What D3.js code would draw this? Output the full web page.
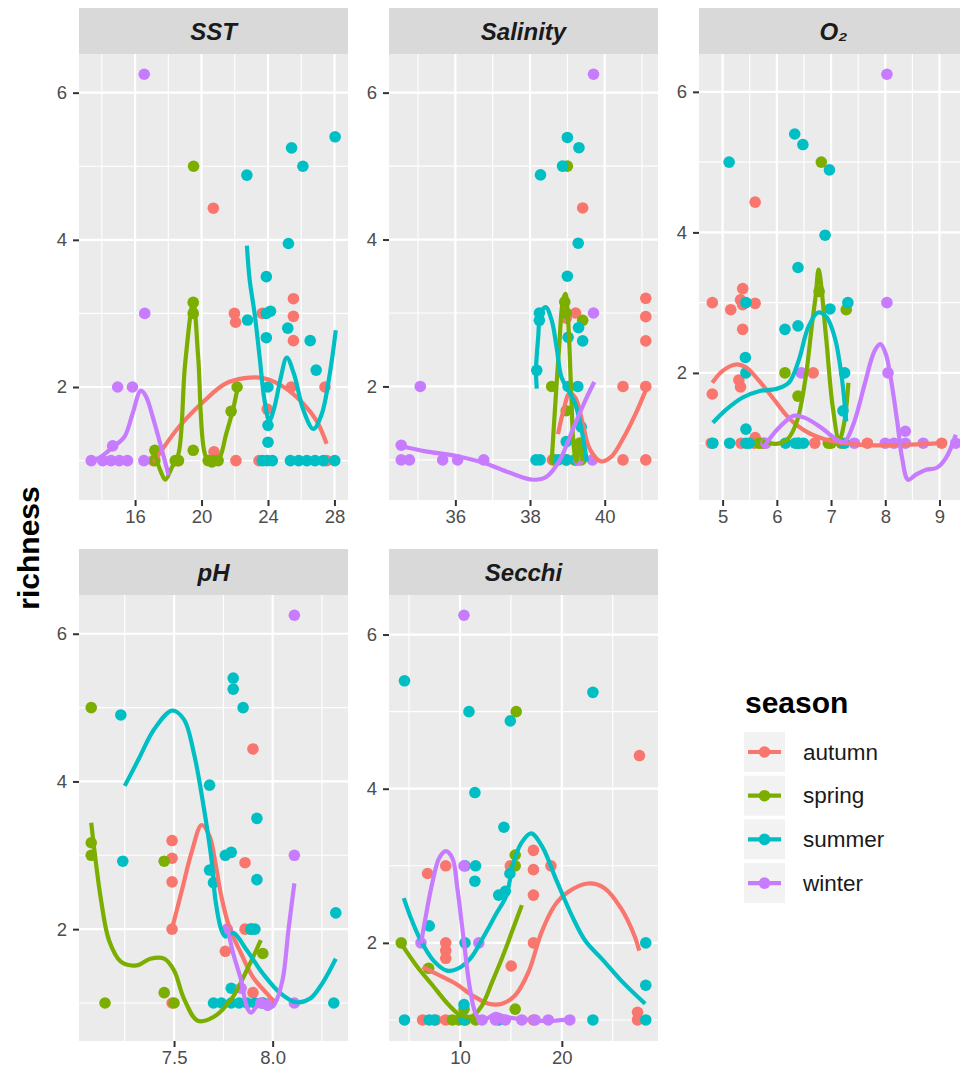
<!DOCTYPE html>
<html>
<head>
<meta charset="utf-8">
<script src="https://cdn.jsdelivr.net/npm/d3@7"></script>
<style>
  body { margin: 0; background: #fff; }
  svg { display: block; }
</style>
</head>
<body>
<svg id="chart" width="960" height="1074"></svg>
<script>
/* ── Data ─────────────────────────────────────────────────────── */

const seasons = ['autumn', 'spring', 'summer', 'winter'];
const seasonColors = ['#F8766D', '#7CAE00', '#00BFC4', '#C77CFF'];

const yTicks = [2, 4, 6];
const sstTicks = [16, 20, 24, 28];
const salinityTicks = [36, 38, 40];
const o2Ticks = [5, 6, 7, 8, 9];
const phTicks = [7.5, 8.0];
const secchiTicks = [10, 20];

// [season, x, richness]
const sstPoints = [
  ['autumn', 20.71, 4.43], ['autumn', 21.98, 3.0], ['autumn', 22.05, 2.88], ['autumn', 23.66, 3.0],
  ['autumn', 25.53, 3.2], ['autumn', 25.53, 2.96], ['autumn', 25.53, 2.63], ['autumn', 27.43, 2.0],
  ['autumn', 25.4, 2.0], ['autumn', 23.95, 1.7], ['autumn', 20.75, 1.12], ['autumn', 17.1, 1.0],
  ['autumn', 18.6, 1.0], ['autumn', 22.07, 1.0], ['autumn', 23.46, 1.0], ['autumn', 27.53, 1.0],
  ['spring', 19.52, 5.0], ['spring', 19.5, 3.15], ['spring', 19.5, 3.0], ['spring', 19.5, 1.14],
  ['spring', 17.19, 1.14], ['spring', 17.19, 1.0], ['spring', 18.42, 1.0], ['spring', 18.61, 1.0],
  ['spring', 20.4, 1.0], ['spring', 20.7, 1.0], ['spring', 21.0, 1.0], ['spring', 21.78, 1.67],
  ['spring', 22.14, 2.0],
  ['summer', 22.73, 4.88], ['summer', 25.42, 5.25], ['summer', 26.1, 5.0], ['summer', 28.04, 5.4],
  ['summer', 25.23, 3.95], ['summer', 23.9, 3.5], ['summer', 22.77, 2.91], ['summer', 23.9, 3.0],
  ['summer', 24.15, 3.03], ['summer', 23.9, 2.67], ['summer', 25.19, 2.8], ['summer', 26.54, 2.63],
  ['summer', 26.9, 2.23], ['summer', 24.0, 2.0], ['summer', 24.0, 1.48], ['summer', 24.0, 1.25],
  ['summer', 23.66, 1.0], ['summer', 23.96, 1.0], ['summer', 24.26, 1.0], ['summer', 25.35, 1.0],
  ['summer', 25.85, 1.0], ['summer', 26.34, 1.0], ['summer', 26.83, 1.0], ['summer', 27.33, 1.0],
  ['summer', 28.02, 1.0],
  ['winter', 16.55, 6.25], ['winter', 16.58, 3.0], ['winter', 14.95, 2.0], ['winter', 15.84, 2.0],
  ['winter', 14.65, 1.2], ['winter', 13.36, 1.0], ['winter', 14.05, 1.0], ['winter', 14.55, 1.0],
  ['winter', 15.05, 1.0], ['winter', 15.54, 1.0], ['winter', 16.53, 1.0]
];

const sstFits = [
  ['autumn', 17.13, 0.98], ['autumn', 18.61, 1.45], ['autumn', 20.2, 1.82], ['autumn', 21.39, 2.04],
  ['autumn', 22.58, 2.12], ['autumn', 23.76, 2.12], ['autumn', 24.95, 2.0], ['autumn', 26.14, 1.77],
  ['autumn', 26.93, 1.54], ['autumn', 27.53, 1.23],
  ['spring', 17.19, 1.09], ['spring', 17.53, 0.86], ['spring', 17.82, 0.74], ['spring', 18.22, 0.91],
  ['spring', 18.61, 1.09], ['spring', 19.01, 2.31], ['spring', 19.5, 3.15], ['spring', 19.8, 2.4],
  ['spring', 20.2, 1.09], ['spring', 20.6, 0.93], ['spring', 21.09, 1.04], ['spring', 21.48, 1.36],
  ['spring', 21.88, 1.68], ['spring', 22.18, 2.0],
  ['summer', 22.73, 3.92], ['summer', 22.9, 3.45], ['summer', 23.2, 2.99], ['summer', 23.5, 2.4],
  ['summer', 23.79, 1.82], ['summer', 24.08, 1.54], ['summer', 24.38, 1.72], ['summer', 24.77, 2.13],
  ['summer', 25.13, 2.4], ['summer', 25.56, 2.18], ['summer', 26.14, 1.68], ['summer', 26.73, 1.43],
  ['summer', 27.23, 1.63], ['summer', 27.72, 2.18], ['summer', 28.08, 2.77],
  ['winter', 13.36, 1.0], ['winter', 13.86, 1.04], ['winter', 14.65, 1.18], ['winter', 15.35, 1.32],
  ['winter', 15.84, 1.63], ['winter', 16.34, 1.95], ['winter', 16.64, 1.88], ['winter', 17.13, 1.54],
  ['winter', 17.62, 1.14], ['winter', 18.02, 0.8]
];

const salinityPoints = [
  ['autumn', 39.41, 4.43], ['autumn', 39.22, 3.0], ['autumn', 38.97, 2.93], ['autumn', 41.1, 3.2],
  ['autumn', 41.1, 2.95], ['autumn', 41.1, 2.62], ['autumn', 40.49, 2.0], ['autumn', 41.1, 2.0],
  ['autumn', 38.6, 1.0], ['autumn', 40.49, 1.0], ['autumn', 41.1, 1.0],
  ['spring', 39.0, 5.0], ['spring', 38.93, 3.15], ['spring', 38.97, 3.0], ['spring', 39.41, 2.9],
  ['spring', 38.58, 2.0], ['spring', 38.97, 1.67], ['spring', 38.66, 1.0], ['spring', 38.97, 1.0],
  ['spring', 39.19, 1.0], ['spring', 39.37, 1.0], ['spring', 39.33, 1.23],
  ['summer', 39.0, 5.39], ['summer', 39.31, 5.25], ['summer', 38.28, 4.88], ['summer', 38.87, 5.0],
  ['summer', 39.29, 3.95], ['summer', 39.0, 3.5], ['summer', 38.25, 3.0], ['summer', 38.25, 2.9],
  ['summer', 39.3, 2.8], ['summer', 39.41, 2.62], ['summer', 39.02, 2.67], ['summer', 38.18, 2.22],
  ['summer', 39.02, 2.0], ['summer', 39.28, 2.0], ['summer', 38.97, 1.25], ['summer', 39.37, 1.45],
  ['summer', 38.16, 1.0], ['summer', 38.27, 1.0], ['summer', 38.75, 1.0], ['summer', 38.97, 1.0],
  ['summer', 39.24, 1.0],
  ['winter', 39.7, 6.25], ['winter', 39.7, 3.0], ['winter', 35.06, 2.0], ['winter', 34.55, 1.2],
  ['winter', 34.55, 1.0], ['winter', 34.77, 1.0], ['winter', 35.66, 1.0], ['winter', 36.06, 1.0],
  ['winter', 36.76, 1.0], ['winter', 39.67, 1.0], ['winter', 39.3, 1.0]
];

const salinityFits = [
  ['autumn', 38.75, 1.35], ['autumn', 38.9, 1.68], ['autumn', 39.06, 1.91], ['autumn', 39.22, 1.84],
  ['autumn', 39.41, 1.5], ['autumn', 39.59, 1.16], ['autumn', 39.9, 0.98], ['autumn', 40.17, 1.04],
  ['autumn', 40.47, 1.27], ['autumn', 40.83, 1.63], ['autumn', 41.1, 1.95],
  ['spring', 38.58, 0.98], ['spring', 38.66, 1.63], ['spring', 38.78, 2.54], ['spring', 38.88, 3.17],
  ['spring', 38.95, 3.26], ['spring', 39.02, 2.9], ['spring', 39.1, 1.95], ['spring', 39.17, 1.18],
  ['spring', 39.24, 0.98], ['spring', 39.33, 1.27], ['spring', 39.41, 0.98],
  ['summer', 38.18, 1.97], ['summer', 38.16, 2.22], ['summer', 38.22, 2.68], ['summer', 38.28, 2.99],
  ['summer', 38.42, 3.08], ['summer', 38.58, 2.9], ['summer', 38.71, 2.54], ['summer', 38.84, 2.13],
  ['summer', 39.02, 1.95], ['summer', 39.19, 1.79], ['summer', 39.33, 1.54], ['summer', 39.46, 1.18],
  ['summer', 39.52, 0.98],
  ['winter', 34.55, 1.19], ['winter', 35.17, 1.12], ['winter', 36.06, 1.05], ['winter', 36.76, 0.96],
  ['winter', 37.38, 0.84], ['winter', 38.09, 0.73], ['winter', 38.44, 0.77], ['winter', 38.8, 1.0],
  ['winter', 39.15, 1.42], ['winter', 39.5, 1.83], ['winter', 39.72, 2.06]
];

const o2Points = [
  ['autumn', 4.81, 3.0], ['autumn', 5.15, 2.9], ['autumn', 5.33, 3.04], ['autumn', 5.37, 2.97],
  ['autumn', 5.37, 3.2], ['autumn', 5.6, 2.99], ['autumn', 5.37, 2.62], ['autumn', 5.6, 4.43],
  ['autumn', 5.3, 1.9], ['autumn', 5.33, 1.8], ['autumn', 4.81, 1.7], ['autumn', 6.67, 2.0],
  ['autumn', 5.6, 1.08], ['autumn', 4.79, 1.0], ['autumn', 5.34, 1.0], ['autumn', 5.58, 1.0],
  ['autumn', 5.73, 1.0], ['autumn', 6.7, 1.0], ['autumn', 7.67, 1.0], ['autumn', 9.04, 1.0],
  ['spring', 6.82, 5.0], ['spring', 7.28, 2.9], ['spring', 6.78, 3.16], ['spring', 6.15, 2.0],
  ['spring', 6.39, 1.67], ['spring', 5.67, 1.0], ['spring', 5.76, 1.0], ['spring', 6.4, 1.0],
  ['spring', 6.95, 1.0], ['spring', 7.0, 1.0], ['spring', 7.19, 1.0],
  ['summer', 5.12, 5.0], ['summer', 6.33, 5.4], ['summer', 6.48, 5.25], ['summer', 6.97, 4.89],
  ['summer', 6.89, 3.96], ['summer', 6.39, 3.5], ['summer', 5.43, 3.0], ['summer', 6.15, 2.62],
  ['summer', 6.39, 2.67], ['summer', 6.98, 2.91], ['summer', 7.31, 3.0], ['summer', 5.42, 2.22],
  ['summer', 5.43, 2.0], ['summer', 7.25, 2.0], ['summer', 7.22, 1.46], ['summer', 5.43, 1.2],
  ['summer', 4.82, 1.0], ['summer', 5.13, 1.0], ['summer', 5.43, 1.0], ['summer', 5.49, 1.0],
  ['summer', 6.16, 1.0], ['summer', 6.34, 1.0], ['summer', 6.4, 1.0], ['summer', 6.49, 1.0],
  ['summer', 7.25, 1.0],
  ['winter', 8.03, 6.25], ['winter', 8.03, 3.0], ['winter', 8.05, 2.0], ['winter', 6.45, 2.0],
  ['winter', 8.37, 1.17], ['winter', 5.8, 1.0], ['winter', 7.43, 1.0], ['winter', 8.0, 1.0],
  ['winter', 8.16, 1.0], ['winter', 8.37, 1.0], ['winter', 8.7, 1.0], ['winter', 9.3, 1.0]
];

const o2Fits = [
  ['autumn', 4.81, 1.86], ['autumn', 5.0, 2.03], ['autumn', 5.25, 2.12], ['autumn', 5.43, 2.08],
  ['autumn', 5.67, 1.89], ['autumn', 5.92, 1.65], ['autumn', 6.22, 1.36], ['autumn', 6.58, 1.15],
  ['autumn', 7.0, 1.03], ['autumn', 7.49, 0.98], ['autumn', 7.98, 0.97], ['autumn', 8.47, 0.98],
  ['autumn', 9.04, 1.0],
  ['spring', 5.73, 1.03], ['spring', 5.98, 0.99], ['spring', 6.19, 1.05], ['spring', 6.37, 1.31],
  ['spring', 6.53, 1.93], ['spring', 6.65, 2.7], ['spring', 6.72, 3.12], ['spring', 6.77, 3.47],
  ['spring', 6.91, 2.49], ['spring', 7.03, 1.52], ['spring', 7.15, 1.04], ['spring', 7.24, 1.28],
  ['spring', 7.32, 1.86],
  ['summer', 4.82, 1.29], ['summer', 5.07, 1.48], ['summer', 5.37, 1.65], ['summer', 5.67, 1.74],
  ['summer', 5.98, 1.77], ['summer', 6.22, 1.86], ['summer', 6.4, 2.17], ['summer', 6.58, 2.65],
  ['summer', 6.76, 2.86], ['summer', 6.92, 2.79], ['summer', 7.07, 2.5], ['summer', 7.19, 1.98],
  ['summer', 7.28, 1.31],
  ['winter', 5.79, 0.98], ['winter', 5.98, 1.17], ['winter', 6.16, 1.31], ['winter', 6.31, 1.39],
  ['winter', 6.52, 1.36], ['winter', 6.82, 1.22], ['winter', 7.13, 1.04], ['winter', 7.25, 1.02],
  ['winter', 7.43, 1.31], ['winter', 7.62, 1.84], ['winter', 7.8, 2.31], ['winter', 7.91, 2.41],
  ['winter', 8.01, 2.27], ['winter', 8.1, 1.93], ['winter', 8.22, 1.31], ['winter', 8.31, 0.79],
  ['winter', 8.42, 0.48], ['winter', 8.56, 0.55], ['winter', 8.74, 0.62], ['winter', 8.95, 0.65],
  ['winter', 9.12, 0.79], ['winter', 9.3, 1.12]
];

const phPoints = [
  ['autumn', 7.9, 4.44], ['autumn', 7.49, 3.2], ['autumn', 7.49, 2.96], ['autumn', 7.49, 2.64],
  ['autumn', 7.49, 2.0], ['autumn', 7.49, 1.0], ['autumn', 7.86, 2.9], ['autumn', 7.76, 1.7],
  ['autumn', 7.86, 2.0], ['autumn', 7.9, 1.14], ['autumn', 7.95, 1.0], ['autumn', 7.99, 1.0],
  ['spring', 7.08, 5.0], ['spring', 7.08, 3.17], ['spring', 7.08, 3.0], ['spring', 7.15, 1.0],
  ['spring', 7.45, 2.92], ['spring', 7.45, 1.14], ['spring', 7.5, 1.0], ['spring', 7.89, 2.0],
  ['spring', 7.95, 1.67],
  ['summer', 7.23, 4.9], ['summer', 7.24, 2.92], ['summer', 7.68, 3.95], ['summer', 7.8, 5.4],
  ['summer', 7.8, 5.25], ['summer', 7.85, 5.0], ['summer', 7.92, 3.5], ['summer', 7.76, 3.0],
  ['summer', 7.79, 3.04], ['summer', 7.92, 2.67], ['summer', 7.68, 2.8], ['summer', 7.7, 2.63],
  ['summer', 8.32, 2.22], ['summer', 7.89, 2.0], ['summer', 7.91, 2.0], ['summer', 7.79, 1.2],
  ['summer', 7.7, 1.0], ['summer', 7.74, 1.0], ['summer', 7.79, 1.0], ['summer', 7.83, 1.0],
  ['summer', 7.87, 1.0], ['summer', 7.91, 1.0], ['summer', 7.95, 1.0], ['summer', 7.99, 1.0],
  ['summer', 8.31, 1.0],
  ['winter', 8.11, 6.25], ['winter', 8.11, 3.0], ['winter', 7.77, 2.0], ['winter', 7.84, 1.2],
  ['winter', 7.94, 1.0], ['winter', 7.99, 1.0], ['winter', 8.11, 1.0]
];

const phFits = [
  ['autumn', 7.49, 2.01], ['autumn', 7.54, 2.53], ['autumn', 7.59, 3.05], ['autumn', 7.64, 3.41],
  ['autumn', 7.68, 3.26], ['autumn', 7.71, 2.89], ['autumn', 7.74, 2.44], ['autumn', 7.78, 2.03],
  ['autumn', 7.84, 1.67], ['autumn', 7.9, 1.35], ['autumn', 7.97, 1.13], ['autumn', 8.01, 1.01],
  ['spring', 7.08, 3.44], ['spring', 7.1, 2.98], ['spring', 7.13, 2.39], ['spring', 7.17, 1.85],
  ['spring', 7.23, 1.56], ['spring', 7.31, 1.51], ['spring', 7.38, 1.6], ['spring', 7.45, 1.6],
  ['spring', 7.5, 1.44], ['spring', 7.55, 1.06], ['spring', 7.62, 0.76], ['spring', 7.7, 0.81],
  ['spring', 7.79, 1.05], ['spring', 7.87, 1.45], ['spring', 7.94, 1.85],
  ['summer', 7.25, 3.94], ['summer', 7.32, 4.3], ['summer', 7.4, 4.71], ['summer', 7.49, 4.96],
  ['summer', 7.55, 4.84], ['summer', 7.6, 4.39], ['summer', 7.65, 3.66], ['summer', 7.69, 2.94],
  ['summer', 7.71, 2.39], ['summer', 7.74, 1.99], ['summer', 7.76, 1.9], ['summer', 7.8, 1.95],
  ['summer', 7.87, 1.71], ['summer', 7.95, 1.4], ['summer', 8.04, 1.13], ['summer', 8.12, 1.01],
  ['summer', 8.19, 1.06], ['summer', 8.25, 1.26], ['summer', 8.32, 1.6],
  ['winter', 7.77, 2.03], ['winter', 7.8, 1.67], ['winter', 7.84, 1.31], ['winter', 7.87, 0.94],
  ['winter', 7.89, 0.87], ['winter', 7.94, 1.01], ['winter', 7.97, 0.92], ['winter', 8.01, 0.99],
  ['winter', 8.05, 1.31], ['winter', 8.08, 1.99], ['winter', 8.11, 2.62]
];

const secchiPoints = [
  ['autumn', 27.62, 4.43], ['autumn', 17.21, 3.2], ['autumn', 17.21, 2.95], ['autumn', 18.93, 3.0],
  ['autumn', 17.21, 2.62], ['autumn', 14.94, 3.0], ['autumn', 8.6, 3.0], ['autumn', 6.82, 2.9],
  ['autumn', 17.21, 2.0], ['autumn', 8.6, 2.0], ['autumn', 8.6, 1.9], ['autumn', 8.6, 1.8],
  ['autumn', 15.03, 1.7], ['autumn', 27.43, 1.1], ['autumn', 6.33, 1.0], ['autumn', 7.63, 1.0],
  ['autumn', 8.6, 1.0], ['autumn', 17.21, 1.0], ['autumn', 27.43, 1.0],
  ['spring', 15.52, 5.0], ['spring', 15.42, 3.14], ['spring', 15.42, 3.0], ['spring', 4.23, 2.0],
  ['spring', 6.92, 1.67], ['spring', 15.42, 1.14], ['spring', 10.4, 1.14], ['spring', 9.25, 1.0],
  ['spring', 9.9, 1.0], ['spring', 10.55, 1.0], ['spring', 11.53, 1.0],
  ['summer', 4.55, 5.4], ['summer', 10.88, 5.0], ['summer', 14.94, 4.88], ['summer', 23.05, 5.25],
  ['summer', 11.46, 3.95], ['summer', 14.31, 3.5], ['summer', 10.49, 3.0], ['summer', 11.53, 3.0],
  ['summer', 11.46, 2.8], ['summer', 13.8, 2.62], ['summer', 14.45, 2.67], ['summer', 14.9, 2.9],
  ['summer', 6.98, 2.22], ['summer', 10.49, 2.0], ['summer', 28.24, 2.0], ['summer', 28.24, 1.45],
  ['summer', 10.39, 1.2], ['summer', 4.55, 1.0], ['summer', 6.98, 1.0], ['summer', 7.47, 1.0],
  ['summer', 10.39, 1.0], ['summer', 13.8, 1.0], ['summer', 23.05, 1.0], ['summer', 28.24, 1.0],
  ['winter', 10.39, 6.25], ['winter', 10.39, 3.0], ['winter', 6.17, 2.0], ['winter', 11.85, 2.0],
  ['winter', 12.17, 1.0], ['winter', 13.48, 1.0], ['winter', 14.45, 1.0], ['winter', 16.07, 1.0],
  ['winter', 17.37, 1.0], ['winter', 18.67, 1.0], ['winter', 20.78, 1.0]
];

const secchiFits = [
  ['autumn', 6.33, 1.69], ['autumn', 7.96, 1.58], ['autumn', 9.58, 1.47], ['autumn', 11.2, 1.32],
  ['autumn', 12.82, 1.21], ['autumn', 14.12, 1.21], ['autumn', 15.42, 1.32], ['autumn', 16.72, 1.62],
  ['autumn', 18.01, 2.14], ['autumn', 19.32, 2.49], ['autumn', 20.61, 2.66], ['autumn', 22.56, 2.77],
  ['autumn', 24.19, 2.71], ['autumn', 25.8, 2.45], ['autumn', 27.11, 2.1], ['autumn', 27.6, 1.9],
  ['spring', 4.23, 1.99], ['spring', 5.69, 1.71], ['spring', 7.3, 1.45], ['spring', 8.93, 1.19],
  ['spring', 10.07, 1.06], ['spring', 11.2, 1.05], ['spring', 12.17, 1.19], ['spring', 13.15, 1.49],
  ['spring', 14.12, 1.8], ['spring', 15.09, 2.14], ['spring', 16.07, 2.49],
  ['summer', 4.48, 2.58], ['summer', 5.13, 2.34], ['summer', 6.11, 2.04], ['summer', 7.4, 1.77],
  ['summer', 8.71, 1.64], ['summer', 9.68, 1.66], ['summer', 10.97, 1.79], ['summer', 12.27, 2.07],
  ['summer', 13.57, 2.38], ['summer', 14.55, 2.61], ['summer', 15.19, 3.01], ['summer', 16.0, 3.29],
  ['summer', 16.98, 3.42], ['summer', 18.11, 3.24], ['summer', 19.41, 2.83], ['summer', 21.03, 2.34],
  ['summer', 22.34, 2.02], ['summer', 23.95, 1.79], ['summer', 25.9, 1.5], ['summer', 28.18, 1.21],
  ['winter', 6.17, 1.99], ['winter', 6.66, 2.36], ['winter', 7.3, 2.79], ['winter', 7.96, 3.1],
  ['winter', 8.6, 3.19], ['winter', 9.25, 3.1], ['winter', 9.74, 2.71], ['winter', 10.39, 2.01],
  ['winter', 11.04, 1.36], ['winter', 11.68, 1.05], ['winter', 12.5, 1.01], ['winter', 13.48, 1.08],
  ['winter', 14.45, 1.04], ['winter', 16.07, 1.01], ['winter', 17.69, 0.99], ['winter', 19.32, 0.99],
  ['winter', 20.78, 1.01]
];

/* ── Layout ───────────────────────────────────────────────────── */

const FONT = '"Liberation Sans", Arial, Helvetica, sans-serif';
const PANEL_W = 269;
const PANEL_H = 446;
const STRIP_H = 46;
const colLeft = [79, 389, 699];
const rowTop = [54, 595];
const POINT_R = 5.8;
const LINE_W = 4.2;

const panels = [
  { title: 'SST', points: sstPoints, fits: sstFits, ticks: sstTicks, fmt: d3.format('d'), col: 0, row: 0 },
  { title: 'Salinity', points: salinityPoints, fits: salinityFits, ticks: salinityTicks, fmt: d3.format('d'), col: 1, row: 0 },
  { title: 'O\u2082', points: o2Points, fits: o2Fits, ticks: o2Ticks, fmt: d3.format('d'), col: 2, row: 0 },
  { title: 'pH', points: phPoints, fits: phFits, ticks: phTicks, fmt: d3.format('.1f'), col: 0, row: 1 },
  { title: 'Secchi', points: secchiPoints, fits: secchiFits, ticks: secchiTicks, fmt: d3.format('d'), col: 1, row: 1 },
];

const color = d3.scaleOrdinal().domain(seasons).range(seasonColors);

// ggplot-style 5% expansion of a continuous range
function expand([lo, hi]) {
  const pad = (hi - lo) * 0.05;
  return [lo - pad, hi + pad];
}

// minor breaks halfway between majors, plus one step beyond each end
function minorBreaks(ticks, domain) {
  const step = ticks.length > 1 ? ticks[1] - ticks[0] : 1;
  const out = [];
  for (let i = -1; i < ticks.length; i++) {
    const v = ticks[0] + step * (i + 0.5);
    if (v > domain[0] && v < domain[1]) out.push(v);
  }
  return out;
}

const svg = d3.select('#chart');
const defs = svg.append('defs');

panels.forEach((p, i) => {
  const left = colLeft[p.col];
  const top = rowTop[p.row];

  const all = p.points.concat(p.fits);
  const x = d3.scaleLinear()
    .domain(expand(d3.extent(all, d => d[1])))
    .range([left, left + PANEL_W]);
  const y = d3.scaleLinear()
    .domain(expand(d3.extent(all, d => d[2])))
    .range([top + PANEL_H, top]);

  const g = svg.append('g');

  // strip
  g.append('rect')
    .attr('x', left).attr('y', top - STRIP_H)
    .attr('width', PANEL_W).attr('height', STRIP_H)
    .attr('fill', '#D9D9D9');
  g.append('text')
    .attr('x', left + PANEL_W / 2).attr('y', top - STRIP_H / 2)
    .attr('text-anchor', 'middle').attr('dominant-baseline', 'central')
    .attr('font-family', FONT).attr('font-size', 24)
    .attr('font-weight', 'bold').attr('font-style', 'italic')
    .attr('fill', '#1A1A1A')
    .text(p.title);

  // panel background
  g.append('rect')
    .attr('x', left).attr('y', top)
    .attr('width', PANEL_W).attr('height', PANEL_H)
    .attr('fill', '#EBEBEB');

  // grid
  const grid = g.append('g').attr('stroke', '#fff');
  grid.selectAll('.ymin').data(minorBreaks(yTicks, y.domain())).join('line')
    .attr('x1', left).attr('x2', left + PANEL_W)
    .attr('y1', d => y(d)).attr('y2', d => y(d))
    .attr('stroke-width', 1.1);
  grid.selectAll('.xmin').data(minorBreaks(p.ticks, x.domain())).join('line')
    .attr('y1', top).attr('y2', top + PANEL_H)
    .attr('x1', d => x(d)).attr('x2', d => x(d))
    .attr('stroke-width', 1.1);
  grid.selectAll('.ymaj').data(yTicks).join('line')
    .attr('x1', left).attr('x2', left + PANEL_W)
    .attr('y1', d => y(d)).attr('y2', d => y(d))
    .attr('stroke-width', 2.2);
  grid.selectAll('.xmaj').data(p.ticks).join('line')
    .attr('y1', top).attr('y2', top + PANEL_H)
    .attr('x1', d => x(d)).attr('x2', d => x(d))
    .attr('stroke-width', 2.2);

  // clip marks to the panel
  defs.append('clipPath').attr('id', `clip-${i}`)
    .append('rect')
    .attr('x', left).attr('y', top)
    .attr('width', PANEL_W).attr('height', PANEL_H);

  const marks = g.append('g').attr('clip-path', `url(#clip-${i})`);

  // points, one season after another
  seasons.forEach(s => {
    marks.append('g').selectAll('circle')
      .data(p.points.filter(d => d[0] === s))
      .join('circle')
      .attr('cx', d => x(d[1]))
      .attr('cy', d => y(d[2]))
      .attr('r', POINT_R)
      .attr('fill', color(s));
  });

  // smoothed fits
  const line = d3.line()
    .x(d => x(d[1]))
    .y(d => y(d[2]))
    .curve(d3.curveCatmullRom.alpha(0.5));
  const bySeason = d3.group(p.fits, d => d[0]);
  seasons.forEach(s => {
    if (!bySeason.has(s)) return;
    marks.append('path')
      .attr('d', line(bySeason.get(s)))
      .attr('fill', 'none')
      .attr('stroke', color(s))
      .attr('stroke-width', LINE_W)
      .attr('stroke-linejoin', 'round')
      .attr('stroke-linecap', 'butt');
  });

  // axes
  const yAxis = g.append('g')
    .attr('transform', `translate(${left},0)`)
    .call(d3.axisLeft(y).tickValues(yTicks).tickFormat(d3.format('d')).tickSize(6).tickPadding(6));
  const xAxis = g.append('g')
    .attr('transform', `translate(0,${top + PANEL_H})`)
    .call(d3.axisBottom(x).tickValues(p.ticks).tickFormat(p.fmt).tickSize(6).tickPadding(4));

  [yAxis, xAxis].forEach(ax => {
    ax.select('.domain').remove();
    ax.selectAll('.tick line').attr('stroke', '#333333').attr('stroke-width', 2);
    ax.selectAll('.tick text')
      .attr('font-family', FONT)
      .attr('font-size', 18.5)
      .attr('fill', '#4D4D4D');
  });
});

/* ── Axis title ───────────────────────────────────────────────── */

svg.append('text')
  .attr('transform', 'translate(28,548) rotate(-90)')
  .attr('text-anchor', 'middle').attr('dominant-baseline', 'central')
  .attr('font-family', FONT).attr('font-size', 30).attr('font-weight', 'bold')
  .attr('fill', '#000')
  .text('richness');

/* ── Legend ───────────────────────────────────────────────────── */

const legend = svg.append('g').attr('transform', 'translate(744,0)');

legend.append('text')
  .attr('x', 1).attr('y', 713)
  .attr('font-family', FONT).attr('font-size', 30).attr('font-weight', 'bold')
  .attr('fill', '#000')
  .text('season');

const keys = legend.selectAll('.key').data(seasons).join('g')
  .attr('transform', (d, i) => `translate(0,${732 + i * 43.7})`);

keys.append('rect')
  .attr('width', 41).attr('height', 40)
  .attr('fill', '#F2F2F2');
keys.append('line')
  .attr('x1', 4).attr('x2', 37).attr('y1', 20).attr('y2', 20)
  .attr('stroke', d => color(d)).attr('stroke-width', LINE_W);
keys.append('circle')
  .attr('cx', 20.5).attr('cy', 20).attr('r', POINT_R)
  .attr('fill', d => color(d));
keys.append('text')
  .attr('x', 59).attr('y', 20)
  .attr('dominant-baseline', 'central')
  .attr('font-family', FONT).attr('font-size', 22.5)
  .attr('fill', '#1A1A1A')
  .text(d => d);
</script>
</body>
</html>
